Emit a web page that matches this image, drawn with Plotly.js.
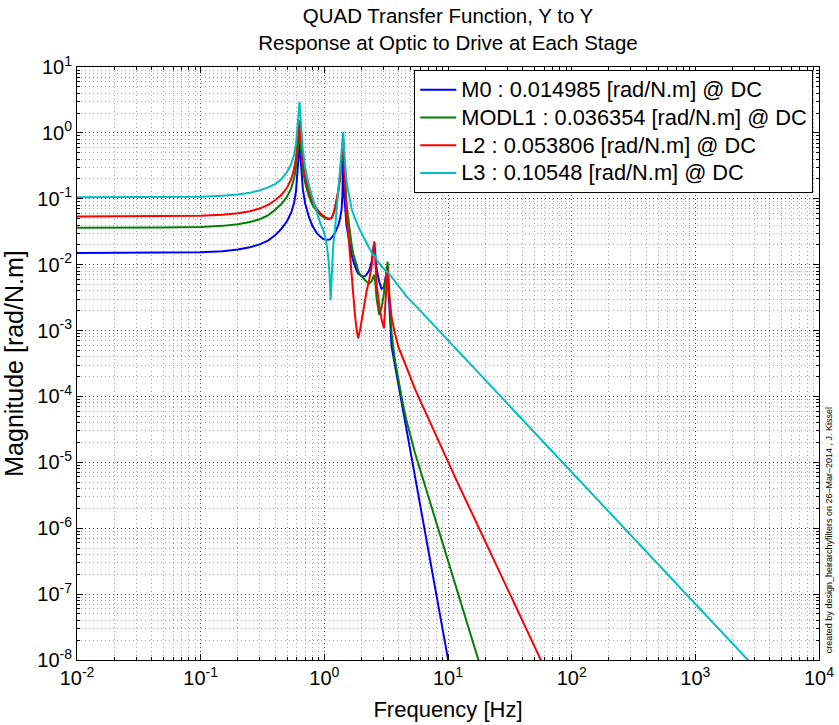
<!DOCTYPE html>
<html><head><meta charset="utf-8">
<script src="https://cdn.plot.ly/plotly-3.0.1.min.js"></script>
<style>html,body{margin:0;padding:0;background:#fff;} #chart{width:839px;height:725px;}</style>
</head><body><div id="chart"></div>
<script>
// Frequency grid [Hz]
const freq = [0.01,0.02,0.05,0.1,0.15,0.2,0.25,0.3,0.35,0.4,
  0.45,0.5,0.54,0.57,0.59,0.61,0.62,0.63,0.64,0.65,
  0.67,0.7,0.75,0.8,0.87,0.93,0.98,1.03,1.075,1.1,
  1.125,1.15,1.18,1.22,1.26,1.3,1.34,1.38,1.4,1.42,
  1.44,1.48,1.51,1.55,1.61,1.67,1.71,1.77,1.83,1.88,
  1.95,2.06,2.13,2.2,2.31,2.41,2.48,2.53,2.58,2.65,
  2.78,2.9,3.03,3.12,3.19,3.25,3.32,3.5,3.72,3.96,
  4.3,4.62,5.0,5.4,5.93,6.5,7.37,8.6,10,12,
  15,20,30,50,70,100,200,500,1000,2000,5000];

const magM0 = [0.01499,0.0150,0.01504,0.01537,0.0160,0.0170,0.0184,0.0203,0.0232,0.0280,
  0.035,0.046,0.062,0.088,0.13,0.26,0.45,0.69,0.45,0.26,
  0.14,0.085,0.053,0.039,0.030,0.0265,0.0245,0.0238,0.0237,0.0240,
  0.0247,0.0258,0.0275,0.0305,0.0345,0.040,0.050,0.070,0.11,0.45,
  0.13,0.055,0.040,0.030,0.019,0.0135,0.0115,0.0092,0.0080,0.0074,
  0.0069,0.0066,0.0067,0.0071,0.0083,0.0110,0.0155,0.0223,0.0150,0.0085,
  0.0055,0.0043,0.0045,0.0058,0.0078,0.0070,0.0035,5.7e-4,3.0e-4,1.58e-4,
  6.7e-5,3.17e-5,1.40e-5,6.3e-6,2.37e-6,9.1e-7,2.47e-7,4.96e-8,1.03e-8,1.55e-9,
  null,null,null,null,null,null,null,null,null,null,null];

const magMODL1 = [0.03635,0.03637,0.0365,0.0374,0.0388,0.0410,0.0443,0.0490,0.0560,0.068,
  0.083,0.108,0.145,0.205,0.30,0.55,0.75,1.04,0.75,0.50,
  0.28,0.175,0.110,0.082,0.065,0.057,0.0525,0.0500,0.0490,0.0492,
  0.0500,0.0520,0.058,0.072,0.095,0.13,0.20,0.38,0.55,0.75,
  0.40,0.15,0.09,0.055,0.029,0.019,0.0149,0.0115,0.0092,0.0080,
  0.0070,0.0062,0.0058,0.0055,0.0052,0.0056,0.0064,0.0070,0.0055,0.0030,
  0.00173,0.0022,0.0036,0.0058,0.0090,0.0111,0.0050,9.1e-4,3.6e-4,1.8e-4,
  8.0e-5,4.3e-5,2.4e-5,1.4e-5,7.9e-6,4.5e-6,2.1e-6,8.6e-7,3.4e-7,1.09e-7,
  2.73e-8,4.6e-9,null,null,null,null,null,null,null,null,null];

const magL2 = [0.05381,0.05383,0.0540,0.0552,0.0572,0.0602,0.0647,0.0710,0.0805,0.095,
  0.115,0.148,0.200,0.285,0.42,0.80,1.15,1.57,1.1,0.70,
  0.37,0.215,0.130,0.093,0.070,0.060,0.0545,0.0515,0.0503,0.0502,
  0.0506,0.0520,0.058,0.072,0.096,0.14,0.22,0.42,0.60,0.85,
  0.45,0.096,0.055,0.035,0.014,0.0055,0.0030,0.0017,0.0010,0.00076,
  0.00105,0.0020,0.0029,0.0040,0.0060,0.0093,0.0150,0.0223,0.0120,0.0050,
  0.0024,0.0015,0.00108,0.0030,0.0065,0.0093,0.0040,1.6e-3,9.1e-4,5.7e-4,
  3.9e-4,2.83e-4,1.9e-4,1.3e-4,8.85e-5,6.0e-5,3.55e-5,1.84e-5,1.0e-5,4.85e-6,
  1.99e-6,6.3e-7,1.24e-7,1.61e-8,4.2e-9,null,null,null,null,null,null];

const magL3 = [0.1055,0.1055,0.1058,0.1077,0.1110,0.1158,0.123,0.134,0.149,0.167,
  0.199,0.255,0.34,0.47,0.68,1.25,2.0,2.97,1.9,1.15,
  0.55,0.30,0.160,0.105,0.060,0.042,0.0336,0.024,0.0132,0.0075,
  0.0029,0.0085,0.020,0.034,0.068,0.136,0.24,0.49,0.72,1.04,
  0.60,0.30,0.193,0.140,0.092,0.068,0.060,0.050,0.043,0.038,
  0.033,0.0266,0.0235,0.0208,0.0178,0.0155,0.0140,0.0140,0.0128,0.0118,
  0.0104,0.0094,0.0087,0.0082,0.0080,0.0078,0.0074,0.0065,0.0056,0.0048,
  0.0039,0.0033,0.00284,0.00243,0.00202,0.00168,0.00131,9.6e-4,7.1e-4,4.93e-4,
  3.16e-4,1.78e-4,7.9e-5,2.84e-5,1.45e-5,7.1e-6,1.78e-6,2.84e-7,7.1e-8,1.78e-8,2.84e-9];

const seriesNames = ['M0 : 0.014985 [rad/N.m] @ DC','MODL1 : 0.036354 [rad/N.m] @ DC',
  'L2 : 0.053806 [rad/N.m] @ DC','L3 : 0.10548 [rad/N.m] @ DC'];
const seriesValues = [magM0, magMODL1, magL2, magL3];
const seriesColors = ['#0000ff','#008000','#ff0000','#00bfbf'];

const xTickVals = [0.01,0.1,1,10,100,1000,10000];
const xTickText = ['10<sup>-2</sup>','10<sup>-1</sup>','10<sup>0</sup>','10<sup>1</sup>','10<sup>2</sup>','10<sup>3</sup>','10<sup>4</sup>'];
const yTickVals = [1e-8,1e-7,1e-6,1e-5,1e-4,1e-3,1e-2,1e-1,1,10];
const yTickText = ['10<sup>-8</sup>','10<sup>-7</sup>','10<sup>-6</sup>','10<sup>-5</sup>','10<sup>-4</sup>','10<sup>-3</sup>','10<sup>-2</sup>','10<sup>-1</sup>','10<sup>0</sup>','10<sup>1</sup>'];

const FONT = 'Liberation Sans, Arial, Helvetica, sans-serif';

const traces = seriesValues.map((v, i) => ({
  x: freq, y: v, type: 'scatter', mode: 'lines',
  name: '<span style="font-size:21.8px">' + seriesNames[i] + '</span>',
  line: {color: seriesColors[i], width: 2}, hoverinfo: 'skip', connectgaps: false
}));

function axisCommon() {
  return {
    type: 'log', tickmode: 'array', ticks: 'inside', ticklen: 6, tickwidth: 1, tickcolor: '#000',
    showline: true, linecolor: '#000', linewidth: 1, mirror: 'allticks',
    showgrid: true, gridcolor: 'rgba(0,0,0,0.55)', gridwidth: 1, griddash: '1px,3px',
    zeroline: false, tickfont: {family: FONT, size: 20, color: '#000'},
    minor: {ticks: 'inside', ticklen: 3, tickcolor: '#000', dtick: 'D1',
            showgrid: true, gridcolor: 'rgba(0,0,0,0.35)', gridwidth: 1, griddash: '1px,3px'}
  };
}

const xaxis = Object.assign(axisCommon(), {
  range: [-2, 4], tickvals: xTickVals, ticktext: xTickText,
  title: {text: 'Frequency [Hz]', font: {family: FONT, size: 22, color: '#000'}, standoff: 13}
});
const yaxis = Object.assign(axisCommon(), {
  range: [-8, 1], tickvals: yTickVals, ticktext: yTickText,
  title: {text: 'Magnitude [rad/N.m]', font: {family: FONT, size: 25, color: '#000'}, standoff: 7}
});

const layout = {
  width: 839, height: 725,
  margin: {l: 77, r: 20, t: 67, b: 65},
  paper_bgcolor: '#fff', plot_bgcolor: '#fff',
  font: {family: FONT, color: '#000'},
  title: {text: 'QUAD Transfer Function, Y to Y<br>Response at Optic to Drive at Each Stage',
          font: {family: FONT, size: 20.5, color: '#000'}, x: 0.534, xanchor: 'center',
          y: 0.968, yanchor: 'top', yref: 'container'},
  xaxis: xaxis, yaxis: yaxis,
  showlegend: true,
  legend: {x: 0.4545, y: 0.995, xanchor: 'left', yanchor: 'top', bgcolor: '#fff',
           bordercolor: '#000', borderwidth: 1, font: {family: FONT, size: 19, color: '#000'},
           tracegroupgap: 0, itemwidth: 36},
  annotations: [{
    text: 'created by design_heirarchyfilters on 26\u2013Mar\u20132014 , J. Kissel',
    xref: 'paper', yref: 'paper', x: 1.0135, y: 0.219, xanchor: 'center', yanchor: 'middle',
    textangle: -90, showarrow: false, font: {family: FONT, size: 9, color: '#000'}
  }]
};

Plotly.newPlot('chart', traces, layout, {displayModeBar: false, staticPlot: true});
</script>
</body></html>
